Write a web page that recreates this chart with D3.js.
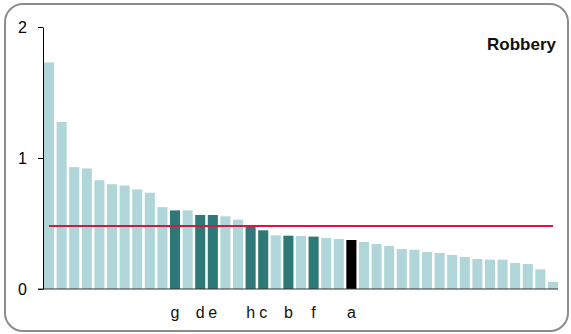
<!DOCTYPE html>
<html>
<head>
<meta charset="utf-8">
<script src="https://cdn.jsdelivr.net/npm/d3@7/dist/d3.min.js"></script>
<style>
  html, body { margin: 0; padding: 0; background: #fff; }
  svg { display: block; font-family: "Liberation Sans", Arial, sans-serif; }
</style>
</head>
<body>
<svg id="chart" width="571" height="334"></svg>
<script>
// ---- data ----
const categories = d3.range(41).map(i => "c" + i);
const values = [1.73, 1.275, 0.93, 0.92, 0.83, 0.80, 0.79, 0.76, 0.735, 0.625,
                0.60, 0.60, 0.565, 0.565, 0.555, 0.53, 0.48, 0.448, 0.41, 0.407,
                0.405, 0.40, 0.39, 0.382, 0.374, 0.359, 0.344, 0.328, 0.305, 0.30,
                0.282, 0.275, 0.26, 0.244, 0.229, 0.224, 0.224, 0.198, 0.191, 0.15,
                0.053];
const labels = ["", "", "", "", "", "", "", "", "", "",
                "g", "", "d", "e", "", "", "h", "c", "", "b",
                "", "f", "", "", "a", "", "", "", "", "",
                "", "", "", "", "", "", "", "", "", "", ""];
const groups = labels.map(l => l === "a" ? "focus" : (l ? "peer" : "other"));
const average = 0.48;
const yTicks = [0, 1, 2];
const title = "Robbery";

// ---- drawing ----
const svg = d3.select("#chart");
const colors = { other: "#b0d6d9", peer: "#2f7878", focus: "#000000" };

// frame
svg.append("rect")
  .attr("x", 5).attr("y", 4).attr("width", 563).attr("height", 327)
  .attr("rx", 18).attr("ry", 18)
  .attr("fill", "#fff").attr("stroke", "#8c8c8c").attr("stroke-width", 2);

const x = d3.scaleBand().domain(categories).range([44, 558]).paddingInner(0.2).paddingOuter(0);
const y = d3.scaleLinear().domain([0, 2]).range([289, 27]);

svg.append("g").selectAll("rect")
  .data(values)
  .join("rect")
  .attr("x", (d, i) => x(categories[i]))
  .attr("width", x.bandwidth())
  .attr("y", d => y(d))
  .attr("height", d => y(0) - y(d))
  .attr("fill", (d, i) => colors[groups[i]]);

// average line
svg.append("line")
  .attr("x1", 49).attr("x2", 553)
  .attr("y1", y(average)).attr("y2", y(average))
  .attr("stroke", "#d6173e").attr("stroke-width", 2);

// y axis
const yAxis = svg.append("g")
  .attr("transform", "translate(43,0)")
  .call(d3.axisLeft(y).tickValues(yTicks).tickFormat(d3.format("d")).tickSize(5).tickSizeOuter(0).tickPadding(11));
yAxis.select(".domain").attr("stroke", "#000");
yAxis.selectAll(".tick line").attr("stroke", "#000");
yAxis.selectAll("text").attr("font-size", 16).attr("fill", "#000").attr("font-family", "Liberation Sans, Arial, sans-serif");

// x baseline
svg.append("line")
  .attr("x1", 38).attr("x2", 558)
  .attr("y1", y(0)).attr("y2", y(0))
  .attr("stroke", "#333").attr("stroke-width", 1.2);

// category letters
svg.append("g").selectAll("text")
  .data(labels)
  .join("text")
  .attr("x", (d, i) => x(categories[i]) + x.bandwidth() / 2)
  .attr("y", 318)
  .attr("text-anchor", "middle")
  .attr("font-size", 16)
  .attr("fill", "#111")
  .text(d => d);

// title
svg.append("text")
  .attr("x", 556).attr("y", 50)
  .attr("text-anchor", "end")
  .attr("font-size", 17)
  .attr("font-weight", "bold")
  .attr("fill", "#111")
  .text(title);
</script>
</body>
</html>
